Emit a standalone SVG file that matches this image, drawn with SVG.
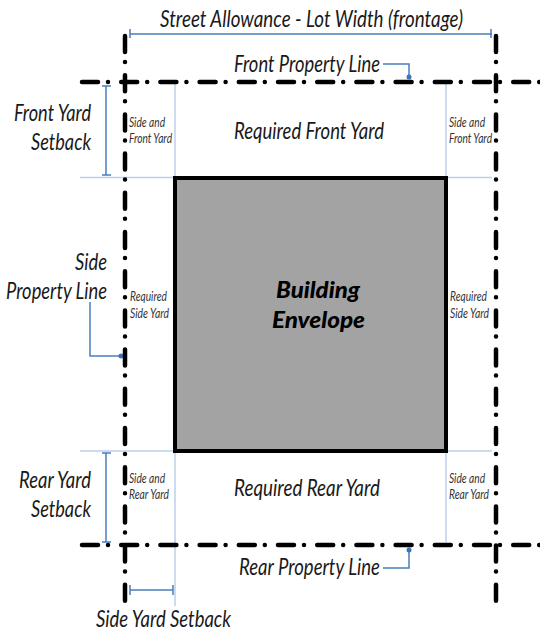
<svg xmlns="http://www.w3.org/2000/svg" width="540" height="632" viewBox="0 0 540 632">
<style>
text{font-family:"Lato","Liberation Sans",sans-serif;font-style:italic;fill:#1a1a1a}
.l{font-size:23.500px}
.s{font-size:13.500px;fill:#333}
.e{font-size:22px;font-weight:900;fill:#000}
.p{fill:none;stroke:#000;stroke-width:4.500;stroke-linecap:round;stroke-dasharray:16 10 0 13.2}
.g{fill:none;stroke:#bdd0e9;stroke-width:1.500}
.b{fill:none;stroke:#4a7ebb;stroke-width:1.500}
.d{fill:#3d74b8}
</style>
<g id="building-envelope">
<rect x="175" y="178" width="271" height="273" fill="#a3a3a3" stroke="#000" stroke-width="4"/>
<text class="e" x="276" y="298" textLength="84" lengthAdjust="spacingAndGlyphs">Building</text>
<text class="e" x="272" y="328" textLength="93" lengthAdjust="spacingAndGlyphs">Envelope</text>
</g>
<g id="connectors">
<path class="g" d="M175 82V176M446 82V176M80 177.500H173M448 177.500H492M80 451H173M448 451H492M175 453V606M446 453V542"/>
<path class="b" d="M130 34H492M130 29V38M491 29V38M106 86V175M102 86H111M102 175H111M106 453V542M102 453H111M102 542H111M130 590H173M130 585V595M173 585V595M383 64H409V77M383 568H409V550M90 302V356H120"/>
<circle class="d" cx="409" cy="77" r="2.500"/><circle class="d" cx="409" cy="550" r="2.500"/><circle class="d" cx="121" cy="356" r="2.500"/>
</g>
<g id="property-lines">
<path class="p" d="M82 82H540"/><path class="p" d="M82 545H540"/>
<path class="p" d="M125 36V601"/><path class="p" d="M496 36V601"/>
</g>
<g id="labels">
<text class="l" x="160" y="26.500" textLength="303" lengthAdjust="spacingAndGlyphs">Street Allowance - Lot Width (frontage)</text>
<text class="l" x="234" y="72" textLength="146" lengthAdjust="spacingAndGlyphs">Front Property Line</text>
<text class="l" x="234" y="139" textLength="150" lengthAdjust="spacingAndGlyphs">Required Front Yard</text>
<text class="l" x="234" y="496" textLength="146" lengthAdjust="spacingAndGlyphs">Required Rear Yard</text>
<text class="l" x="239" y="575" textLength="141" lengthAdjust="spacingAndGlyphs">Rear Property Line</text>
<text class="l" x="96" y="627" textLength="135" lengthAdjust="spacingAndGlyphs">Side Yard Setback</text>
<text class="l" x="14" y="121" textLength="77" lengthAdjust="spacingAndGlyphs">Front Yard</text>
<text class="l" x="31" y="150" textLength="60" lengthAdjust="spacingAndGlyphs">Setback</text>
<text class="l" x="75" y="270" textLength="32" lengthAdjust="spacingAndGlyphs">Side</text>
<text transform="translate(6 299) scale(1 1.120)" style="font-size:21px" x="0" y="0" textLength="101" lengthAdjust="spacingAndGlyphs">Property Line</text>
<text class="l" x="19" y="488" textLength="72" lengthAdjust="spacingAndGlyphs">Rear Yard</text>
<text class="l" x="31" y="517" textLength="60" lengthAdjust="spacingAndGlyphs">Setback</text>
<text class="s" x="129" y="126.500" textLength="36" lengthAdjust="spacingAndGlyphs">Side and</text><text class="s" x="129" y="142.500" textLength="43" lengthAdjust="spacingAndGlyphs">Front Yard</text>
<text class="s" x="449" y="126.500" textLength="36" lengthAdjust="spacingAndGlyphs">Side and</text><text class="s" x="449" y="142.500" textLength="43" lengthAdjust="spacingAndGlyphs">Front Yard</text>
<text class="s" x="130" y="301" textLength="37" lengthAdjust="spacingAndGlyphs">Required</text><text class="s" x="130" y="317.500" textLength="39" lengthAdjust="spacingAndGlyphs">Side Yard</text>
<text class="s" x="450" y="301" textLength="37" lengthAdjust="spacingAndGlyphs">Required</text><text class="s" x="450" y="317.500" textLength="39" lengthAdjust="spacingAndGlyphs">Side Yard</text>
<text class="s" x="129" y="483" textLength="36" lengthAdjust="spacingAndGlyphs">Side and</text><text class="s" x="129" y="499" textLength="40" lengthAdjust="spacingAndGlyphs">Rear Yard</text>
<text class="s" x="449" y="483" textLength="36" lengthAdjust="spacingAndGlyphs">Side and</text><text class="s" x="449" y="499" textLength="40" lengthAdjust="spacingAndGlyphs">Rear Yard</text>
</g>
</svg>
